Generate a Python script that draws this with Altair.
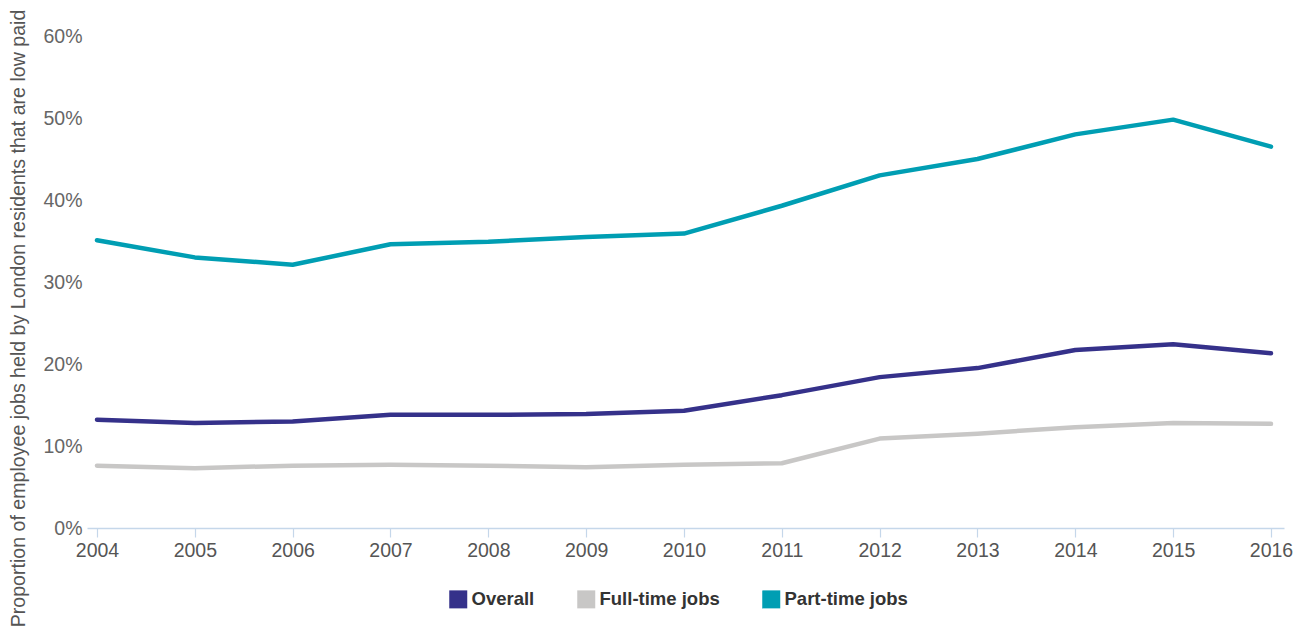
import altair as alt
import pandas as pd

years = list(range(2004, 2017))
overall = [13.2, 12.8, 13.0, 13.8, 13.8, 13.9, 14.3, 16.2, 18.4, 19.5, 21.7, 22.4, 21.3]
full_time = [7.6, 7.3, 7.6, 7.7, 7.6, 7.4, 7.7, 7.9, 10.9, 11.5, 12.3, 12.8, 12.7]
part_time = [35.1, 33.0, 32.1, 34.6, 34.9, 35.5, 35.9, 39.3, 43.0, 45.0, 48.0, 49.8, 46.5]

series_names = ["Overall", "Full-time jobs", "Part-time jobs"]
series_colors = ["#35318a", "#c8c7c6", "#009eb3"]

rows = []
for name, vals in zip(series_names, [overall, full_time, part_time]):
    for y, v in zip(years, vals):
        rows.append({"year": y, "value": v / 100.0, "series": name})
df = pd.DataFrame(rows)

chart = alt.Chart(df).mark_line(strokeWidth=4.5, strokeCap="round", strokeJoin="round").encode(
    x=alt.X("year:Q",
            scale=alt.Scale(domain=[2003.898, 2016.133], nice=False, zero=False),
            axis=alt.Axis(values=years, format="d", title=None, grid=False,
                          domainColor="#c5d7ea", domainWidth=1.5,
                          tickColor="#c5d7ea", tickSize=9, tickWidth=1.2,
                          labelFontSize=19.5, labelColor="#555555", labelPadding=4,
                          labelFont="Liberation Sans")),
    y=alt.Y("value:Q",
            scale=alt.Scale(domain=[0, 0.6], nice=False),
            axis=alt.Axis(values=[0, 0.1, 0.2, 0.3, 0.4, 0.5, 0.6], format=".0%",
                          title="Proportion of employee jobs held by London residents that are low paid",
                          grid=False, domain=False, ticks=False,
                          labelFontSize=19.5, labelColor="#666666", labelPadding=5,
                          labelFont="Liberation Sans",
                          titleFontSize=19.6, titleColor="#555555", titleFontWeight="normal",
                          titleFont="Liberation Sans", titlePadding=14, titleY=282)),
    color=alt.Color("series:N",
                    scale=alt.Scale(domain=series_names, range=series_colors),
                    sort=series_names,
                    legend=alt.Legend(title=None, orient="none", direction="horizontal",
                                      legendX=362, legendY=554,
                                      symbolType="square", symbolSize=1,
                                      symbolStrokeWidth=17, symbolOpacity=1,
                                      labelFontSize=18.5, labelFontWeight="bold",
                                      labelColor="#333333", labelFont="Liberation Sans",
                                      labelOffset=4, columnPadding=16)),
).properties(
    width=1197, height=492,
    autosize=alt.AutoSizeParams(type="none"),
    padding={"left": 87, "top": 36, "right": 17, "bottom": 100},
    background="white",
).configure_view(strokeWidth=0, stroke=None)

chart.save("out.html", embed_options={"renderer": "svg", "actions": False})
